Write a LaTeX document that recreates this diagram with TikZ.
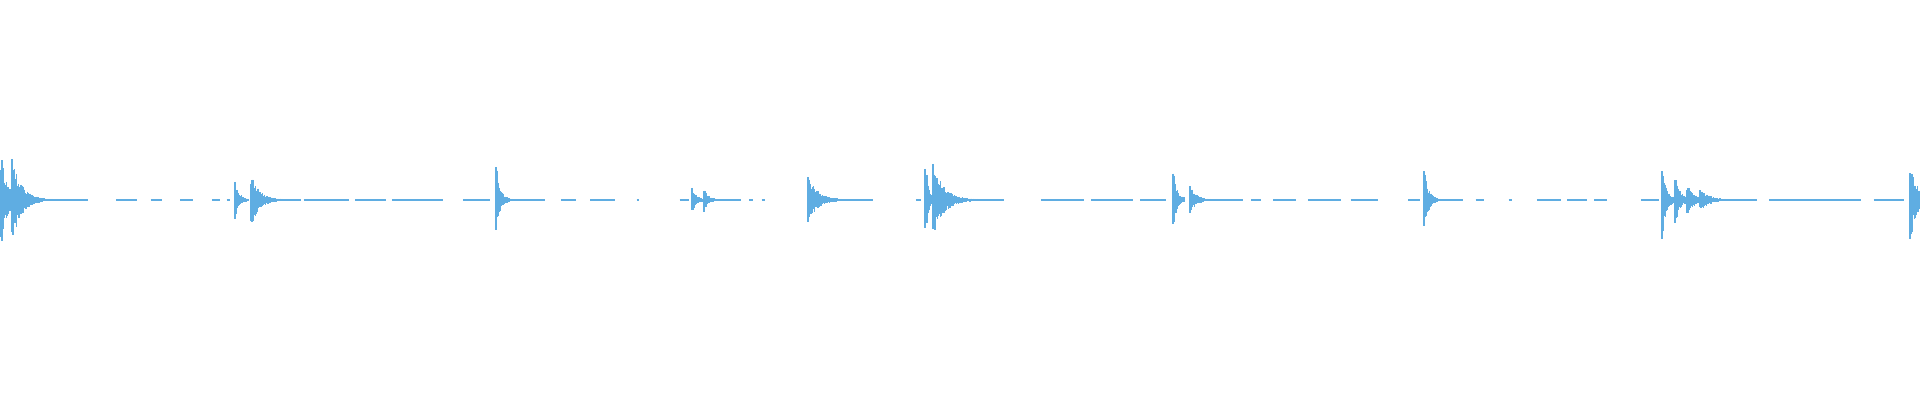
\documentclass[tikz,border=0pt]{standalone}
\usepackage{tikz}

\definecolor{wavecol}{RGB}{95,173,226}

\begin{document}
\begin{tikzpicture}[x=0.01cm, y=0.01cm]
\tikzstyle{wave}=[draw=wavecol, line width=0.4pt];
\tikzstyle{base}=[draw=wavecol, line width=0.5pt];
\pgfmathsetseed{7}

\useasboundingbox (0,0) rectangle (1920,400);

% quiet stretches along the middle line (given in 1568 scale)
\foreach \a/\b in {50/72, 95/112, 123/132, 147/158, 173/180, 185/188, 210/245, 248/285,
  290/315, 320/362, 378/400, 412/445, 458/470, 482/502, 520/522, 555/563, 580/605,
  612/615, 622/625, 670/713, 748/752, 770/820, 850/885, 891/925, 931/952, 980/1015,
  1022/1030, 1040/1058, 1068/1095, 1103/1125, 1150/1160, 1170/1195, 1205/1212,
  1232/1235, 1255/1275, 1280/1296, 1302/1312, 1340/1355, 1395/1435, 1445/1520, 1530/1555}
  \draw[base] ({\a*1.2245},200) -- ({\b*1.2245},200);

% bursts: start / peak / decay / length
\foreach \s/\p/\d/\l in {1/48/6/60, 12/44/9/50, 235/20/4/14, 251/28/8/50, 496/36/4/30,
  692/14/4/10, 704/12/4/16, 808/24/9/60, 925/46/3/10, 933/40/10/70,
  1173/30/4/12, 1190/14/6/20, 1424/36/4/25, 1662/42/4/12, 1675/24/5/12,
  1687/17/6/12, 1700/12/8/30, 1910/44/6/10}
{
  \foreach \i in {0,0.9,...,\l}
    \draw[wave] ({\s+\i},{200+\p*exp(-\i/\d)*(0.55+0.45*rnd)+0.6})
      -- ({\s+\i},{200-\p*exp(-\i/\d)*(0.55+0.45*rnd)-0.6});
}
\end{tikzpicture}
\end{document}
